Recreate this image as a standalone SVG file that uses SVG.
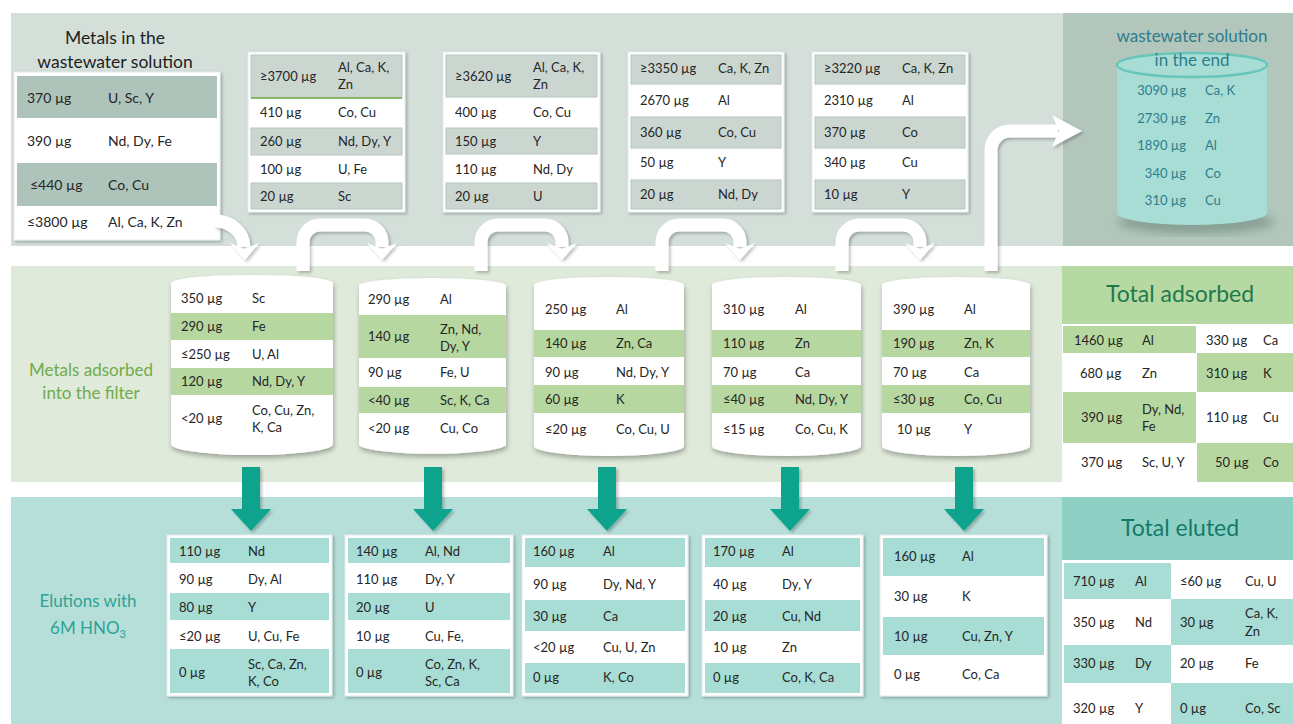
<svg xmlns="http://www.w3.org/2000/svg" width="1293" height="724" viewBox="0 0 1293 724">
<style>
text{font-family:Lato,"Open Sans","Liberation Sans",sans-serif;font-size:13px;fill:#262626}
.b{font-size:14px}
.ttl{font-size:17.5px;fill:#1e1e1e;text-anchor:middle}
.lg{font-size:17px;fill:#6fac4a;text-anchor:middle}
.lt{font-size:17px;fill:#2ea394;text-anchor:middle}
.tc{font-size:17px;fill:#2e7d8c;text-anchor:middle}
.cv{fill:#2e7d8c}
.ce{fill:#2e7d8c;text-anchor:end}
.big{font-size:23px;text-anchor:middle}
.box{fill:#fff;stroke:#e6ebe9;stroke-width:1;filter:url(#sh)}
.g0{fill:#aec3b9}
.gr{fill:#cbd6d1;stroke:#b7c4be;stroke-width:1}
.gn{fill:#b6d8a0}
.tl{fill:#a7ddd4}
.cyl{fill:#fff;filter:url(#sh2)}
.wa{fill:none;stroke:#fff;stroke-width:13}
.wh{fill:#fff}
.da{fill:#08a38c}
</style>
<defs>
<filter id="sh" x="-10%" y="-10%" width="125%" height="125%"><feDropShadow dx="1.5" dy="1.5" stdDeviation="1.5" flood-color="#000" flood-opacity="0.28"/></filter>
<filter id="sh2" x="-10%" y="-10%" width="125%" height="130%"><feDropShadow dx="1" dy="3" stdDeviation="2.5" flood-color="#000" flood-opacity="0.3"/></filter>
<filter id="sh3" x="-20%" y="-20%" width="150%" height="150%"><feDropShadow dx="2" dy="2" stdDeviation="1.8" flood-color="#000" flood-opacity="0.25"/></filter>
<filter id="bl"><feGaussianBlur stdDeviation="5"/></filter>
</defs>

<g id="bands">
<rect x="11" y="13" width="1052" height="233" fill="#d4dfda"/>
<rect x="1063" y="13" width="230" height="233" fill="#b2c6bc"/>
<rect x="11" y="266" width="1051" height="216" fill="#dfeada"/>
<rect x="11" y="497" width="1051" height="227" fill="#b7dfda"/>
</g>

<g id="title-wastewater">
<text class="ttl" x="115" y="44">Metals in the</text>
<text class="ttl" x="115" y="68">wastewater solution</text>
</g>

<g id="n0">
<rect class="box" x="14" y="72" width="206" height="168"/>
<rect class="g0" x="17" y="76" width="200" height="42"/>
<rect class="g0" x="17" y="163" width="200" height="43"/>
<text class="b" x="27" y="103">370 µg</text><text class="b" x="108" y="103">U, Sc, Y</text>
<text class="b" x="27" y="146">390 µg</text><text class="b" x="108" y="146">Nd, Dy, Fe</text>
<text class="b" x="30" y="190">≤440 µg</text><text class="b" x="108" y="190">Co, Cu</text>
<text class="b" x="27" y="227">≤3800 µg</text><text class="b" x="108" y="227">Al, Ca, K, Zn</text>
</g>

<g id="n1">
<rect class="box" x="248" y="52" width="157" height="160"/>
<rect class="gr" x="251" y="55" width="151" height="43"/>
<line x1="251" y1="98" x2="402" y2="98" stroke="#70ad47" stroke-width="1.6"/>
<rect class="gr" x="251" y="128" width="151" height="27"/>
<rect class="gr" x="251" y="183" width="151" height="26"/>
<text x="260" y="81">≥3700 µg</text><text x="338" y="72">Al, Ca, K,</text><text x="338" y="89">Zn</text>
<text x="260" y="117">410 µg</text><text x="338" y="117">Co, Cu</text>
<text x="260" y="146">260 µg</text><text x="338" y="146">Nd, Dy, Y</text>
<text x="260" y="174">100 µg</text><text x="338" y="174">U, Fe</text>
<text x="260" y="201">20 µg</text><text x="338" y="201">Sc</text>
</g>

<g id="n2">
<rect class="box" x="443" y="52" width="157" height="160"/>
<rect class="gr" x="446" y="55" width="151" height="42"/>
<rect class="gr" x="446" y="128" width="151" height="26"/>
<rect class="gr" x="446" y="183" width="151" height="26"/>
<text x="455" y="81">≥3620 µg</text><text x="533" y="72">Al, Ca, K,</text><text x="533" y="89">Zn</text>
<text x="455" y="117">400 µg</text><text x="533" y="117">Co, Cu</text>
<text x="455" y="146">150 µg</text><text x="533" y="146">Y</text>
<text x="455" y="174">110 µg</text><text x="533" y="174">Nd, Dy</text>
<text x="455" y="201">20 µg</text><text x="533" y="201">U</text>
</g>

<g id="n3">
<rect class="box" x="628" y="52" width="156" height="160"/>
<rect class="gr" x="631" y="55" width="150" height="29"/>
<rect class="gr" x="631" y="117" width="150" height="31"/>
<rect class="gr" x="631" y="180" width="150" height="29"/>
<text x="640" y="73">≥3350 µg</text><text x="718" y="73">Ca, K, Zn</text>
<text x="640" y="105">2670 µg</text><text x="718" y="105">Al</text>
<text x="640" y="137">360 µg</text><text x="718" y="137">Co, Cu</text>
<text x="640" y="167">50 µg</text><text x="718" y="167">Y</text>
<text x="640" y="199">20 µg</text><text x="718" y="199">Nd, Dy</text>
</g>

<g id="n4">
<rect class="box" x="812" y="52" width="156" height="160"/>
<rect class="gr" x="815" y="55" width="150" height="29"/>
<rect class="gr" x="815" y="117" width="150" height="31"/>
<rect class="gr" x="815" y="180" width="150" height="29"/>
<text x="824" y="73">≥3220 µg</text><text x="902" y="73">Ca, K, Zn</text>
<text x="824" y="105">2310 µg</text><text x="902" y="105">Al</text>
<text x="824" y="137">370 µg</text><text x="902" y="137">Co</text>
<text x="824" y="167">340 µg</text><text x="902" y="167">Cu</text>
<text x="824" y="199">10 µg</text><text x="902" y="199">Y</text>
</g>

<g id="n5">
<ellipse cx="1196" cy="222" rx="78" ry="12" fill="#5f7a6e" opacity="0.5" filter="url(#bl)"/>
<path d="M1117,65 V213 A75,12 0 0 0 1267,213 V65 Z" fill="#a8ddd5"/>
<ellipse cx="1192" cy="65" rx="75" ry="12" fill="#a8ddd5" stroke="#66c6ba" stroke-width="2.5"/>
<text class="tc" x="1192" y="42">wastewater solution</text>
<text class="tc" x="1192" y="66">in the end</text>
<text class="ce" x="1186" y="95">3090 µg</text><text class="cv" x="1205" y="95">Ca, K</text>
<text class="ce" x="1186" y="123">2730 µg</text><text class="cv" x="1205" y="123">Zn</text>
<text class="ce" x="1186" y="150">1890 µg</text><text class="cv" x="1205" y="150">Al</text>
<text class="ce" x="1186" y="178">340 µg</text><text class="cv" x="1205" y="178">Co</text>
<text class="ce" x="1186" y="205">310 µg</text><text class="cv" x="1205" y="205">Cu</text>
</g>

<g id="label-adsorbed">
<text class="lg" x="91" y="376">Metals adsorbed</text>
<text class="lg" x="91" y="399">into the filter</text>
</g>

<g id="c1">
<path class="cyl" d="M171,283 V444 A81,11 0 0 0 333,444 V283 A81,8 0 0 0 171,283 Z"/>
<rect class="gn" x="171" y="313" width="162" height="27"/>
<rect class="gn" x="171" y="368" width="162" height="27"/>
<text x="181" y="303">350 µg</text><text x="252" y="303">Sc</text>
<text x="181" y="331">290 µg</text><text x="252" y="331">Fe</text>
<text x="181" y="359">≤250 µg</text><text x="252" y="359">U, Al</text>
<text x="181" y="386">120 µg</text><text x="252" y="386">Nd, Dy, Y</text>
<text x="181" y="423">&lt;20 µg</text><text x="252" y="415">Co, Cu, Zn,</text><text x="252" y="432">K, Ca</text>
</g>

<g id="c2">
<path class="cyl" d="M359,285 V445 A74,10 0 0 0 506,445 V285 A74,8 0 0 0 359,285 Z"/>
<rect class="gn" x="359" y="315" width="147" height="43"/>
<rect class="gn" x="359" y="387" width="147" height="26"/>
<text x="368" y="304">290 µg</text><text x="440" y="304">Al</text>
<text x="368" y="341">140 µg</text><text x="440" y="334">Zn, Nd,</text><text x="440" y="351">Dy, Y</text>
<text x="368" y="377">90 µg</text><text x="440" y="377">Fe, U</text>
<text x="368" y="405">&lt;40 µg</text><text x="440" y="405">Sc, K, Ca</text>
<text x="368" y="433">&lt;20 µg</text><text x="440" y="433">Cu, Co</text>
</g>

<g id="c3">
<path class="cyl" d="M534,285 V446 A75,10 0 0 0 684,446 V285 A75,8 0 0 0 534,285 Z"/>
<rect class="gn" x="534" y="330" width="150" height="27"/>
<rect class="gn" x="534" y="385" width="150" height="28"/>
<text x="545" y="314">250 µg</text><text x="616" y="314">Al</text>
<text x="545" y="348">140 µg</text><text x="616" y="348">Zn, Ca</text>
<text x="545" y="377">90 µg</text><text x="616" y="377">Nd, Dy, Y</text>
<text x="545" y="404">60 µg</text><text x="616" y="404">K</text>
<text x="545" y="434">≤20 µg</text><text x="616" y="434">Co, Cu, U</text>
</g>

<g id="c4">
<path class="cyl" d="M712,285 V446 A74.5,10 0 0 0 861,446 V285 A74.5,8 0 0 0 712,285 Z"/>
<rect class="gn" x="712" y="330" width="149" height="27"/>
<rect class="gn" x="712" y="385" width="149" height="28"/>
<text x="723" y="314">310 µg</text><text x="795" y="314">Al</text>
<text x="723" y="348">110 µg</text><text x="795" y="348">Zn</text>
<text x="723" y="377">70 µg</text><text x="795" y="377">Ca</text>
<text x="723" y="404">≤40 µg</text><text x="795" y="404">Nd, Dy, Y</text>
<text x="723" y="434">≤15 µg</text><text x="795" y="434">Co, Cu, K</text>
</g>

<g id="c5">
<path class="cyl" d="M882,285 V446 A74,10 0 0 0 1030,446 V285 A74,8 0 0 0 882,285 Z"/>
<rect class="gn" x="882" y="330" width="148" height="27"/>
<rect class="gn" x="882" y="385" width="148" height="28"/>
<text x="893" y="314">390 µg</text><text x="964" y="314">Al</text>
<text x="893" y="348">190 µg</text><text x="964" y="348">Zn, K</text>
<text x="893" y="377">70 µg</text><text x="964" y="377">Ca</text>
<text x="893" y="404">≤30 µg</text><text x="964" y="404">Co, Cu</text>
<text x="897" y="434">10 µg</text><text x="964" y="434">Y</text>
</g>

<g id="n11">
<rect x="1062" y="266" width="231" height="58" fill="#b6d8a2"/>
<text class="big" x="1180" y="302" fill="#1e7a4c" style="fill:#1e7a4c">Total adsorbed</text>
<rect x="1062" y="324" width="231" height="158" fill="#fff"/>
<rect class="gn" x="1063" y="326" width="133" height="27"/>
<rect class="gn" x="1197" y="353" width="96" height="39"/>
<rect class="gn" x="1063" y="392" width="133" height="51"/>
<rect class="gn" x="1197" y="443" width="96" height="39"/>
<text x="1074" y="345">1460 µg</text><text x="1142" y="345">Al</text>
<text x="1206" y="345">330 µg</text><text x="1263" y="345">Ca</text>
<text x="1080" y="378">680 µg</text><text x="1142" y="378">Zn</text>
<text x="1206" y="378">310 µg</text><text x="1263" y="378">K</text>
<text x="1081" y="422">390 µg</text><text x="1142" y="414">Dy, Nd,</text><text x="1142" y="431">Fe</text>
<text x="1206" y="422">110 µg</text><text x="1263" y="422">Cu</text>
<text x="1081" y="467">370 µg</text><text x="1142" y="467">Sc, U, Y</text>
<text x="1215" y="467">50 µg</text><text x="1263" y="467">Co</text>
</g>

<g id="label-elutions">
<text class="lt" x="88" y="607">Elutions with</text>
<text class="lt" x="88" y="634">6M HNO<tspan font-size="11" dy="4" style="fill:#2ea394">3</tspan></text>
</g>

<g id="t1">
<rect class="box" x="167" y="535" width="165" height="161"/>
<rect class="tl" x="170" y="538" width="159" height="25"/>
<rect class="tl" x="170" y="593" width="159" height="27"/>
<rect class="tl" x="170" y="649" width="159" height="44"/>
<text x="179" y="556">110 µg</text><text x="248" y="556">Nd</text>
<text x="179" y="584">90 µg</text><text x="248" y="584">Dy, Al</text>
<text x="179" y="612">80 µg</text><text x="248" y="612">Y</text>
<text x="179" y="641">≤20 µg</text><text x="248" y="641">U, Cu, Fe</text>
<text x="179" y="677">0 µg</text><text x="248" y="669">Sc, Ca, Zn,</text><text x="248" y="686">K, Co</text>
</g>

<g id="t2">
<rect class="box" x="345" y="535" width="168" height="161"/>
<rect class="tl" x="348" y="538" width="162" height="25"/>
<rect class="tl" x="348" y="593" width="162" height="27"/>
<rect class="tl" x="348" y="649" width="162" height="44"/>
<text x="356" y="556">140 µg</text><text x="425" y="556">Al, Nd</text>
<text x="356" y="584">110 µg</text><text x="425" y="584">Dy, Y</text>
<text x="356" y="612">20 µg</text><text x="425" y="612">U</text>
<text x="356" y="641">10 µg</text><text x="425" y="641">Cu, Fe,</text>
<text x="356" y="677">0 µg</text><text x="425" y="669">Co, Zn, K,</text><text x="425" y="686">Sc, Ca</text>
</g>

<g id="t3">
<rect class="box" x="522" y="535" width="166" height="161"/>
<rect class="tl" x="525" y="538" width="160" height="29"/>
<rect class="tl" x="525" y="600" width="160" height="31"/>
<rect class="tl" x="525" y="663" width="160" height="30"/>
<text x="533" y="556">160 µg</text><text x="603" y="556">Al</text>
<text x="533" y="589">90 µg</text><text x="603" y="589">Dy, Nd, Y</text>
<text x="533" y="621">30 µg</text><text x="603" y="621">Ca</text>
<text x="533" y="652">&lt;20 µg</text><text x="603" y="652">Cu, U, Zn</text>
<text x="533" y="682">0 µg</text><text x="603" y="682">K, Co</text>
</g>

<g id="t4">
<rect class="box" x="702" y="535" width="161" height="161"/>
<rect class="tl" x="705" y="538" width="155" height="29"/>
<rect class="tl" x="705" y="600" width="155" height="31"/>
<rect class="tl" x="705" y="663" width="155" height="30"/>
<text x="713" y="556">170 µg</text><text x="782" y="556">Al</text>
<text x="713" y="589">40 µg</text><text x="782" y="589">Dy, Y</text>
<text x="713" y="621">20 µg</text><text x="782" y="621">Cu, Nd</text>
<text x="713" y="652">10 µg</text><text x="782" y="652">Zn</text>
<text x="713" y="682">0 µg</text><text x="782" y="682">Co, K, Ca</text>
</g>

<g id="t5">
<rect class="box" x="880" y="535" width="167" height="161"/>
<rect class="tl" x="883" y="538" width="161" height="38"/>
<rect class="tl" x="883" y="617" width="161" height="38"/>
<text x="894" y="561">160 µg</text><text x="962" y="561">Al</text>
<text x="894" y="601">30 µg</text><text x="962" y="601">K</text>
<text x="894" y="641">10 µg</text><text x="962" y="641">Cu, Zn, Y</text>
<text x="894" y="679">0 µg</text><text x="962" y="679">Co, Ca</text>
</g>

<g id="n12">
<rect x="1062" y="497" width="231" height="63" fill="#8fd0c5"/>
<text class="big" x="1180" y="536" style="fill:#137a6a">Total eluted</text>
<rect x="1062" y="560" width="231" height="164" fill="#fff"/>
<rect class="tl" x="1064" y="563" width="107" height="36"/>
<rect class="tl" x="1171" y="599" width="122" height="46"/>
<rect class="tl" x="1064" y="645" width="107" height="38"/>
<rect class="tl" x="1171" y="683" width="122" height="41"/>
<text x="1073" y="586">710 µg</text><text x="1135" y="586">Al</text>
<text x="1180" y="586">≤60 µg</text><text x="1245" y="586">Cu, U</text>
<text x="1073" y="627">350 µg</text><text x="1135" y="627">Nd</text>
<text x="1180" y="627">30 µg</text><text x="1245" y="618">Ca, K,</text><text x="1245" y="636">Zn</text>
<text x="1073" y="668">330 µg</text><text x="1135" y="668">Dy</text>
<text x="1180" y="668">20 µg</text><text x="1245" y="668">Fe</text>
<text x="1073" y="713">320 µg</text><text x="1135" y="713">Y</text>
<text x="1180" y="713">0 µg</text><text x="1245" y="713">Co, Sc</text>
</g>

<g id="connectors">
<g filter="url(#sh3)">
<path class="wa" d="M214,221 A29,26 0 0 1 244,247"/>
<polygon class="wh" points="230,243 244,249 259,243 245,260"/>
<path class="wa" d="M303,271 V242 A17,17 0 0 1 320,225 H365 A17,17 0 0 1 382,242 V247"/>
<polygon class="wh" points="367,243 382,249 397,243 382,260"/>
<path class="wa" d="M481,271 V242 A17,17 0 0 1 498,225 H545 A17,17 0 0 1 562,242 V247"/>
<polygon class="wh" points="547,243 562,249 577,243 562,260"/>
<path class="wa" d="M662,271 V242 A17,17 0 0 1 679,225 H723 A17,17 0 0 1 740,242 V247"/>
<polygon class="wh" points="725,243 740,249 755,243 740,260"/>
<path class="wa" d="M842,271 V242 A17,17 0 0 1 859,225 H903 A17,17 0 0 1 920,242 V247"/>
<polygon class="wh" points="905,243 920,249 935,243 920,260"/>
<path class="wa" d="M991,271 V150 A19,19 0 0 1 1010,131 H1058"/>
<polygon class="wh" points="1052,115 1059,131 1052,147 1082,131"/>
</g>
<g filter="url(#sh3)">
<rect class="da" x="242" y="467" width="18" height="44"/><polygon class="da" points="231,509 271,509 251,531"/>
<rect class="da" x="424" y="467" width="18" height="44"/><polygon class="da" points="413,509 453,509 433,531"/>
<rect class="da" x="598" y="467" width="18" height="44"/><polygon class="da" points="587,509 627,509 607,531"/>
<rect class="da" x="781" y="467" width="18" height="44"/><polygon class="da" points="770,509 810,509 790,531"/>
<rect class="da" x="955" y="467" width="18" height="44"/><polygon class="da" points="944,509 984,509 964,531"/>
</g>
</g>
</svg>
